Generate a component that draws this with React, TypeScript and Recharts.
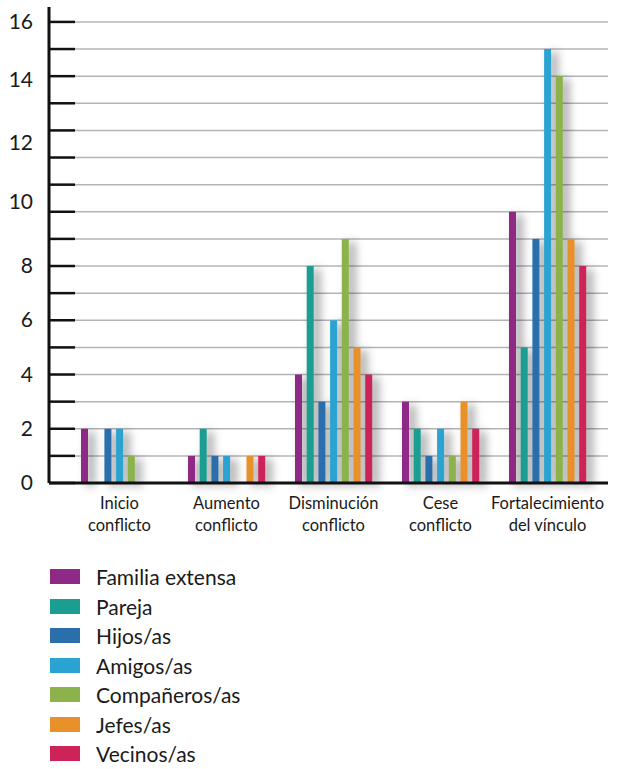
import { BarChart, Bar, XAxis, YAxis, CartesianGrid } from "recharts";

const categories = [
  "Inicio conflicto",
  "Aumento conflicto",
  "Disminución conflicto",
  "Cese conflicto",
  "Fortalecimiento del vínculo",
];
const categoryLines = [
  ["Inicio", "conflicto"],
  ["Aumento", "conflicto"],
  ["Disminución", "conflicto"],
  ["Cese", "conflicto"],
  ["Fortalecimiento", "del vínculo"],
];

const seriesNames = [
  "Familia extensa",
  "Pareja",
  "Hijos/as",
  "Amigos/as",
  "Compañeros/as",
  "Jefes/as",
  "Vecinos/as",
];
const seriesColors = [
  "#8e2a85",
  "#1a9e92",
  "#2a6fab",
  "#2ba3d2",
  "#8bb24b",
  "#e8912b",
  "#cd2359",
];

// values counted against the gridlines
const familiaExtensa = [2, 1, 4, 3, 10];
const pareja = [0, 2, 8, 2, 5];
const hijos = [2, 1, 3, 1, 9];
const amigos = [2, 1, 6, 2, 16];
const companeros = [1, 0, 9, 1, 15];
const jefes = [0, 1, 5, 3, 9];
const vecinos = [0, 1, 4, 2, 8];
const seriesValues = [familiaExtensa, pareja, hijos, amigos, companeros, jefes, vecinos];

const gridValues = [0, 1, 2, 3, 4, 5, 6, 7, 8, 9, 10, 11, 12, 13, 14, 15, 16, 17];
const yTickLabels = ["0", "2", "4", "6", "8", "10", "12", "14", "16"];
// where the printed labels sit, in gridline units
const yTickLabelPositions = [0, 2, 4, 6, 8, 10.35, 12.54, 14.85, 17];

const data = categories.map((c, i) => {
  const row: Record<string, any> = { name: c };
  seriesNames.forEach((s, j) => {
    row[s] = seriesValues[j][i];
  });
  return row;
});

const allYTicks = Array.from(new Set([...gridValues, ...yTickLabelPositions])).sort(
  (a, b) => a - b
);

const FONT = "Lato, 'Open Sans', sans-serif";

const YTick = (props: any) => {
  const { x, y, payload } = props;
  const v = payload.value;
  const isGrid = gridValues.includes(v);
  const li = yTickLabelPositions.indexOf(v);
  return (
    <g>
      {isGrid && (
        <line x1={x} x2={x + 26} y1={y} y2={y} stroke="#111" strokeWidth={2.5} />
      )}
      {li >= 0 && (
        <text
          x={x - 16}
          y={y}
          dy={7}
          textAnchor="end"
          fontSize={21}
          fontFamily={FONT}
          fill="#1a1a1a"
        >
          {yTickLabels[li]}
        </text>
      )}
    </g>
  );
};

const XTick = (props: any) => {
  const { x, y, payload } = props;
  const idx = categories.indexOf(payload.value);
  const lines = categoryLines[idx] || [payload.value];
  return (
    <text x={x} y={y} textAnchor="middle" fontSize={16.5} fontFamily={FONT} fill="#1a1a1a">
      {lines.map((l, i) => (
        <tspan key={i} x={x} y={y + 26 + i * 22}>
          {l}
        </tspan>
      ))}
    </text>
  );
};

const ShadowBar = (props: any) => {
  const { x, y, width, height, fill } = props;
  if (!height || height <= 0) return <g />;
  return (
    <rect
      x={x}
      y={y}
      width={width}
      height={height}
      fill={fill}
      style={{ filter: "drop-shadow(6px 3px 5px rgba(0,0,0,0.4))" }}
    />
  );
};

export default function App() {
  return (
    <div
      style={{
        position: "absolute",
        left: 0,
        top: 0,
        width: 627,
        height: 769,
        background: "#fff",
        fontFamily: FONT,
      }}
    >
      <BarChart
        width={627}
        height={560}
        data={data}
        margin={{ top: 7, right: 19, left: 0, bottom: 0 }}
        barSize={7}
        barGap={4.7}
      >
        <CartesianGrid
          vertical={false}
          stroke="#b4b4b8"
          strokeWidth={1.5}
          horizontalValues={gridValues}
        />
        <XAxis
          dataKey="name"
          height={77}
          axisLine={{ stroke: "#111", strokeWidth: 3 }}
          tickLine={false}
          tickSize={0}
          tickMargin={0}
          interval={0}
          padding={{ left: 17, right: 7 }}
          tick={<XTick />}
        />
        <YAxis
          width={49}
          type="number"
          domain={[0, 17.55]}
          ticks={allYTicks}
          interval={0}
          axisLine={{ stroke: "#111", strokeWidth: 3 }}
          tickLine={false}
          tickSize={0}
          tickMargin={0}
          tick={<YTick />}
        />
        {seriesNames.map((s, i) => (
          <Bar
            key={s}
            dataKey={s}
            fill={seriesColors[i]}
            isAnimationActive={false}
            shape={<ShadowBar />}
          />
        ))}
      </BarChart>
      <div style={{ position: "absolute", left: 50, top: 562 }}>
        {seriesNames.map((s, i) => (
          <div
            key={s}
            style={{ display: "flex", alignItems: "center", height: 29.5 }}
          >
            <div
              style={{
                width: 30,
                height: 15,
                background: seriesColors[i],
                marginRight: 16,
              }}
            />
            <span style={{ fontSize: 21, lineHeight: 1, color: "#1a1a1a" }}>{s}</span>
          </div>
        ))}
      </div>
    </div>
  );
}
